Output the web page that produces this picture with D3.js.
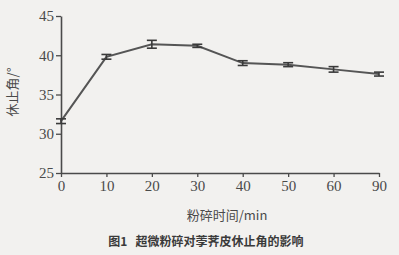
<!DOCTYPE html>
<html>
<head>
<meta charset="utf-8">
<script src="https://cdn.jsdelivr.net/npm/d3@7"></script>
<style>
  body { margin: 0; background: #f2f1ef; }
  svg { display: block; }
</style>
</head>
<body>
<div id="chart"></div>
<script>
var times = ["0", "10", "20", "30", "40", "50", "60", "90"];
var angles = [31.6, 39.8, 41.4, 41.2, 39.0, 38.8, 38.2, 37.6];
var errors = [0.3, 0.3, 0.5, 0.2, 0.3, 0.25, 0.35, 0.25];
var yTicks = [25, 30, 35, 40, 45];

var width = 399, height = 255;
var ink = "#4a4a4a";
var margin = { left: 61, right: 20, top: 16, bottom: 82 };

var svg = d3.select("#chart").append("svg")
    .attr("width", width)
    .attr("height", height);

var x = d3.scalePoint()
    .domain(times)
    .range([margin.left, width - margin.right]);

var y = d3.scaleLinear()
    .domain([25, 45])
    .range([height - margin.bottom, margin.top]);

var serif = "'Liberation Serif', 'DejaVu Serif', serif";

// axes
var xAxis = svg.append("g")
    .attr("transform", "translate(0," + y(25) + ")")
    .attr("font-family", serif)
    .call(d3.axisBottom(x).tickSize(4).tickSizeOuter(0).tickPadding(3));

var yAxis = svg.append("g")
    .attr("transform", "translate(" + margin.left + ",0)")
    .attr("font-family", serif)
    .call(d3.axisLeft(y).tickValues(yTicks).tickSize(5).tickSizeOuter(0).tickPadding(2));

svg.selectAll(".domain").attr("stroke", ink).attr("stroke-width", 1.6);
svg.selectAll(".tick line").attr("stroke", ink).attr("stroke-width", 1.3);
svg.selectAll(".tick text")
    .attr("fill", ink)
    .attr("font-family", serif)
    .style("font-family", serif)
    .style("font-size", "15px");

// line
var line = d3.line()
    .x(function (d, i) { return x(times[i]); })
    .y(function (d) { return y(d); });

svg.append("path")
    .datum(angles)
    .attr("fill", "none")
    .attr("stroke", "#555")
    .attr("stroke-width", 2)
    .attr("d", line);

// error bars
var bars = svg.selectAll(".err")
    .data(angles)
    .enter().append("g")
    .attr("class", "err")
    .attr("stroke", "#3a3a3a")
    .attr("stroke-width", 1.6);

bars.append("line")
    .attr("x1", function (d, i) { return x(times[i]); })
    .attr("x2", function (d, i) { return x(times[i]); })
    .attr("y1", function (d, i) { return y(d - errors[i]); })
    .attr("y2", function (d, i) { return y(d + errors[i]); });

[-1, 1].forEach(function (s) {
    bars.append("line")
        .attr("x1", function (d, i) { return x(times[i]) - 5; })
        .attr("x2", function (d, i) { return x(times[i]) + 5; })
        .attr("y1", function (d, i) { return y(d + s * errors[i]); })
        .attr("y2", function (d, i) { return y(d + s * errors[i]); });
});

// labels
svg.append("text")
    .attr("transform", "translate(17,92) rotate(-90)")
    .attr("text-anchor", "middle")
    .attr("fill", ink)
    .style("font-family", "'Noto Sans CJK SC', sans-serif")
    .style("font-size", "13px")
    .text("休止角/°");

svg.append("text")
    .attr("x", 227)
    .attr("y", 220)
    .attr("text-anchor", "middle")
    .attr("fill", ink)
    .style("font-family", "'Noto Sans CJK SC', sans-serif")
    .style("font-size", "13px")
    .text("粉碎时间/min");

svg.append("text")
    .attr("x", 206)
    .attr("y", 246)
    .attr("text-anchor", "middle")
    .attr("fill", "#3a3a3a")
    .style("font-family", "'Noto Sans CJK SC', sans-serif")
    .style("font-size", "12px")
    .style("font-weight", "bold")
    .attr("xml:space", "preserve")
    .text("图1   超微粉碎对荸荠皮休止角的影响");
</script>
</body>
</html>
